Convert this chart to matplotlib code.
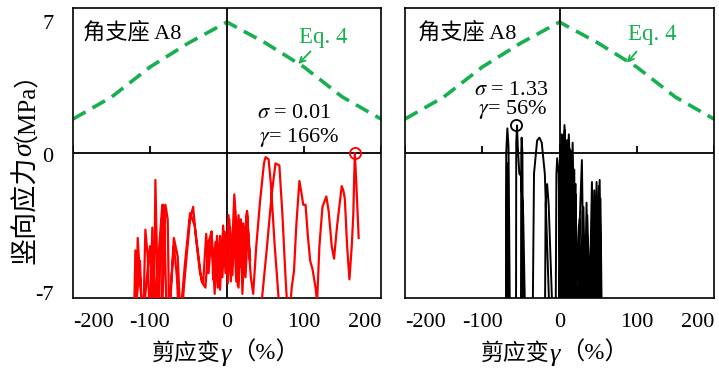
import matplotlib
matplotlib.use("Agg")
import matplotlib.pyplot as plt
from matplotlib.transforms import ScaledTranslation

plt.rcParams['font.family'] = ['Liberation Serif', 'Noto Sans CJK SC', 'DejaVu Sans']
plt.rcParams['mathtext.fontset'] = 'stix'

# ---- data ----
eq4_gamma = [-200, -150, -100, -50, 0, 50, 100, 150, 200]
eq4_sigma = [1.64, 2.7, 4.15, 5.31, 6.32, 5.31, 4.15, 2.7, 1.64]

red_gamma = [0, 3, 6, 9, 12, 15, 18, 21, 24, 27, 30, 26, 22, 18, 14, 10, 7, 4, 1, -3, -6, -9, -12, -15, -18, -20,
             -24, -27, -31, -35,
             -40, -44, -48, -52, -56, -60, -64, -69, -72, -75, -77, -80, -82, -85, -83, -86, -89, -93, -95, -97,
             -100, -103, -106, -109, -113, -116, -118, -119, -121,
             -117, -113, -110, -104, -100, -96, -90, -84, -81, -78, -73, -69, -65, -62, -55, -48, -42, -37, -33,
             -28, -24, -20, -16, -13, -9, -5, -2, 2, 5, 9.5, 12, 15, 18, 20, 23, 26, 29, 31, 34,
             38, 43, 48, 50, 54, 57, 62, 66, 70, 55, 45, 52, 58, 63, 68, 72, 76, 80, 84, 87, 90, 94, 97, 99, 102,
             105, 108, 111, 115, 117, 120, 124, 127, 129, 132, 136, 139, 143, 149, 151, 153, 156, 159, 162, 164,
             166, 168, 171]
red_sigma = [-4.5, -3.2, -5.8, -3.5, -6.2, -3.0, -5.5, -3.4, -6.0, -3.8, -5.2, -2.8, -5.8, -3.2, -6.4, -2.8, -5.9,
             -3.6, -6.3, -3.8, -6.0, -4.0, -6.5, -4.3, -6.1, -3.8,
             -5.8, -3.9, -6.3, -5.8,
             -4.2, -2.6, -3.2, -4.8, -6.5, -8.5, -5.0, -4.1, -6.0, -8.5, -3.2, -2.5, -5.0, -8.5, -2.5, -4.0, -8.5,
             -1.3, -8.5, -3.6,
             -8.5, -5.0, -3.7, -8.5, -6.0, -4.1, -8.5, -4.7, -8.5,
             -7.0, -5.2, -8.5, -6.0, -4.5, -8.5, -5.5, -2.5, -4.0, -8.5, -6.5, -4.5, -6.0, -8.5, -5.5, -2.9, -3.5,
             -5.0, -6.2,
             -6.5, -4.3, -3.8, -6.8, -4.0, -6.6, -3.5, -5.8, -3.0, -6.2, -2.0, -3.4, -6.5, -3.5, -6.8, -4.0, -2.8,
             -5.0, -6.0, -6.8,
             -4.5, -2.3, -0.5, -0.2, -0.3, -1.5, -4.5, -6.5, -8.5, -14.0, -7.2, -4.5, -2.0, -0.5, -0.6, -3.0, -6.0,
             -8.5, -6.5, -5.7, -3.5, -1.35, -2.0, -2.5, -2.5,
             -4.0, -5.2, -5.6, -6.5, -7.2, -4.5, -2.6, -2.3, -2.1, -2.8, -4.5, -5.1, -3.5, -1.6, -1.8, -2.2, -4.5,
             -6.1, -4.5, -3.0,
             0.0, -1.5, -4.1]

blk_gamma = [0, 4, 6.5, 9, 11, 13, 17, 20, 24, 29, 32, 35, 38, 42, 44, 48, 50, 52, 54,
             10, 3, 5, 8, 12, 16, 19, 21, 14, 7, 9, 13, 18, 25, 27, 30, 33, 36, 40, 45, 47, 51, 53,
             -8, -4, -3, -1, 2,
             -22, -18, -16, -14, -8,
             -40, -33, -29, -26, -23, -19, -12,
             -70, -69, -67.5, -66, -64,
             -57, -56, -55, -54, -52, -50, -47, -44,
             -51, -49.5, -49, -48, -47,
             -71, -68, -66,
             -2, 1, 2, 3, 4, 5, 6, 7, 8, 9, 10, 11, 12, 13, 14, 15, 16, 17, 18, 19, 20, 21,
             -3, 0, 2, 5, 7, 10, 12, 15, 17, 20, 23, 26, 28, 31, 34, 37, 39, 43, 46, 49, 51, 53, 55, 30]
blk_sigma = [-3.0, -1.0, 1.35, -9.0, 0.63, -9.0, 0.5, -6.0, -5.6, -0.34, -9.0, -2.4, -9.0, -1.4, -9.0, -1.4, -9.0,
             -1.3, -9.0,
             -30, -9.0, -0.5, -9.0, 0.9, -3.0, -9.0, -1.5, -9.0, -2.0, -9.0, 0.2, -9.0, -3.5, -9.0, -2.8, -9.0, -3.0,
             -9.0, -1.8, -9.0, -1.6, -9.0,
             -30, -1.0, -0.25, -1.0, -9.0,
             -30, -2.5, -1.5, -2.5, -9.0,
             -30, -1.0, 0.6, 0.74, 0.5, -1.0, -9.0,
             -30, 0.0, 1.19, 0.3, -9.0,
             -30, 0.5, 1.33, 0.3, -1.0, -1.1, -3.0, -9.0,
             -30, 0.0, 0.74, 0.0, -9.0,
             -30, -0.5, -9.0,
             -30, 0.4, -9.0, 0.9, -9.0, -0.2, -9.0, 1.1, -9.0, 0.6, -9.0, 0.3, -9.0, -0.5, -9.0, 0.1, -9.0, -1.2,
             -9.0, -0.8, -9.0, -2.0,
             -30, -2.0, -9.0, -1.0, -9.0, 0.2, -9.0, -0.4, -9.0, -2.5, -9.0, -3.2, -9.0, -2.6, -9.0, -4.5, -9.0,
             -2.9, -9.0, -3.5, -9.0, -2.2, -9.0, -30]

red_peak = (166, 0.01)
blk_peak = (-56, 1.33)

xticks = [-200, -100, 0, 100, 200]
yticks = [7, 0, -7]

GREEN = '#17b050'
CJK = ['Noto Sans CJK SC', 'DejaVu Sans']
SERIF = ['Liberation Serif', 'Noto Sans CJK SC']

fig = plt.figure(figsize=(7.19, 3.69), dpi=100)
ax1 = fig.add_axes([73/719, 71/369, 308/719, 290/369])
ax2 = fig.add_axes([405/719, 71/369, 309/719, 290/369])


def xlabel_parts(x_px):
    t1 = fig.text(x_px/719, (369-353)/369, '剪应变', family=CJK, fontsize=16.5, ha='left', va='center')
    a2 = fig.add_artist(plt.Annotation('γ', xy=(1, 0.42), xycoords=t1, family=SERIF, style='italic',
                                       fontsize=19, ha='left', va='center'))
    fig.add_artist(plt.Annotation('（%）', xy=(1, 0.6), xycoords=a2, family=SERIF, fontsize=17.5,
                                  ha='left', va='center'))


def style(ax, show_y):
    ax.set_xlim(-200, 200)
    ax.set_ylim(-7, 7)
    for s in ax.spines.values():
        s.set_linewidth(1.2)
    ax.axhline(0, color='black', lw=1.3, zorder=3)
    ax.axvline(0, color='black', lw=1.3, zorder=3)
    ax.vlines([t for t in xticks if t != 0], 0, 0.35, color='black', lw=1.3, zorder=3)
    ax.set_xticks(xticks)
    ax.set_xticklabels([str(t) for t in xticks], fontsize=16)
    ax.tick_params(axis='both', length=0, pad=11)
    labs = ax.get_xticklabels()
    labs[0].set_ha('left')
    labs[-1].set_ha('right')
    ax.plot(eq4_gamma, eq4_sigma, color=GREEN, lw=2.6, ls=(0, (4, 2.2)), zorder=2)
    if show_y:
        ax.set_yticks(yticks)
        ax.set_yticklabels([str(t) for t in yticks], fontsize=16)
        ax.tick_params(axis='y', pad=14)
        offs = [-14, -2, 5]
        for lab, o in zip(ax.get_yticklabels(), offs):
            lab.set_transform(lab.get_transform() + ScaledTranslation(0, o/100, fig.dpi_scale_trans))
    else:
        ax.set_yticks([])

style(ax1, True)
style(ax2, False)

xlabel_parts(152)
xlabel_parts(481)

# y label pieces (bottom to top)
y1 = fig.text(26/719, (369-264)/369, '竖向应力', family=CJK, fontsize=19.5, rotation=90,
              ha='center', va='bottom')
y2 = fig.add_artist(plt.Annotation('σ', xy=(0.5, 1), xycoords=y1, xytext=(-1, 0), textcoords='offset points',
                                   family=SERIF, style='italic',
                                   fontsize=20, rotation=90, ha='center', va='bottom'))
fig.add_artist(plt.Annotation('（MPa）', xy=(0.45, 1), xycoords=y2, xytext=(-9, 0), textcoords='offset points',
                              family=SERIF, fontsize=18, rotation=90, ha='center', va='bottom'))

ax1.plot(red_gamma, red_sigma, color='#ff0000', lw=1.6, zorder=4)
ax1.plot(*red_peak, 'o', mfc='none', mec='#ff0000', ms=8, mew=1.3, zorder=5)
ax2.plot(blk_gamma, blk_sigma, color='black', lw=1.4, zorder=4)
ax2.plot(*blk_peak, 'o', mfc='none', mec='black', ms=8, mew=1.3, zorder=5)

for ax, xl in ((ax1, -187), (ax2, -183)):
    ax.text(xl, 5.8, '角支座 A8', fontsize=16, va='center', ha='left')

ax1.text(125, 5.6, 'Eq. 4', color=GREEN, fontsize=16.5, ha='center', va='center')
ax1.annotate('', xy=(90, 4.2), xytext=(111, 5.0),
             arrowprops=dict(arrowstyle='->', color=GREEN, lw=1.3))
ax2.text(120, 5.7, 'Eq. 4', color=GREEN, fontsize=16.5, ha='center', va='center')
ax2.annotate('', xy=(85, 4.25), xytext=(102, 5.0),
             arrowprops=dict(arrowstyle='->', color=GREEN, lw=1.3))

ax1.text(39, 1.93, '$\\sigma$ = 0.01', fontsize=16, ha='left', va='center')
ax1.text(41, 0.77, '$\\gamma$= 166%', fontsize=16, ha='left', va='center')
ax2.text(-111, 3.04, '$\\sigma$ = 1.33', fontsize=16, ha='left', va='center')
ax2.text(-106, 2.08, '$\\gamma$= 56%', fontsize=16, ha='left', va='center')

fig.savefig('out.png', dpi=100)
